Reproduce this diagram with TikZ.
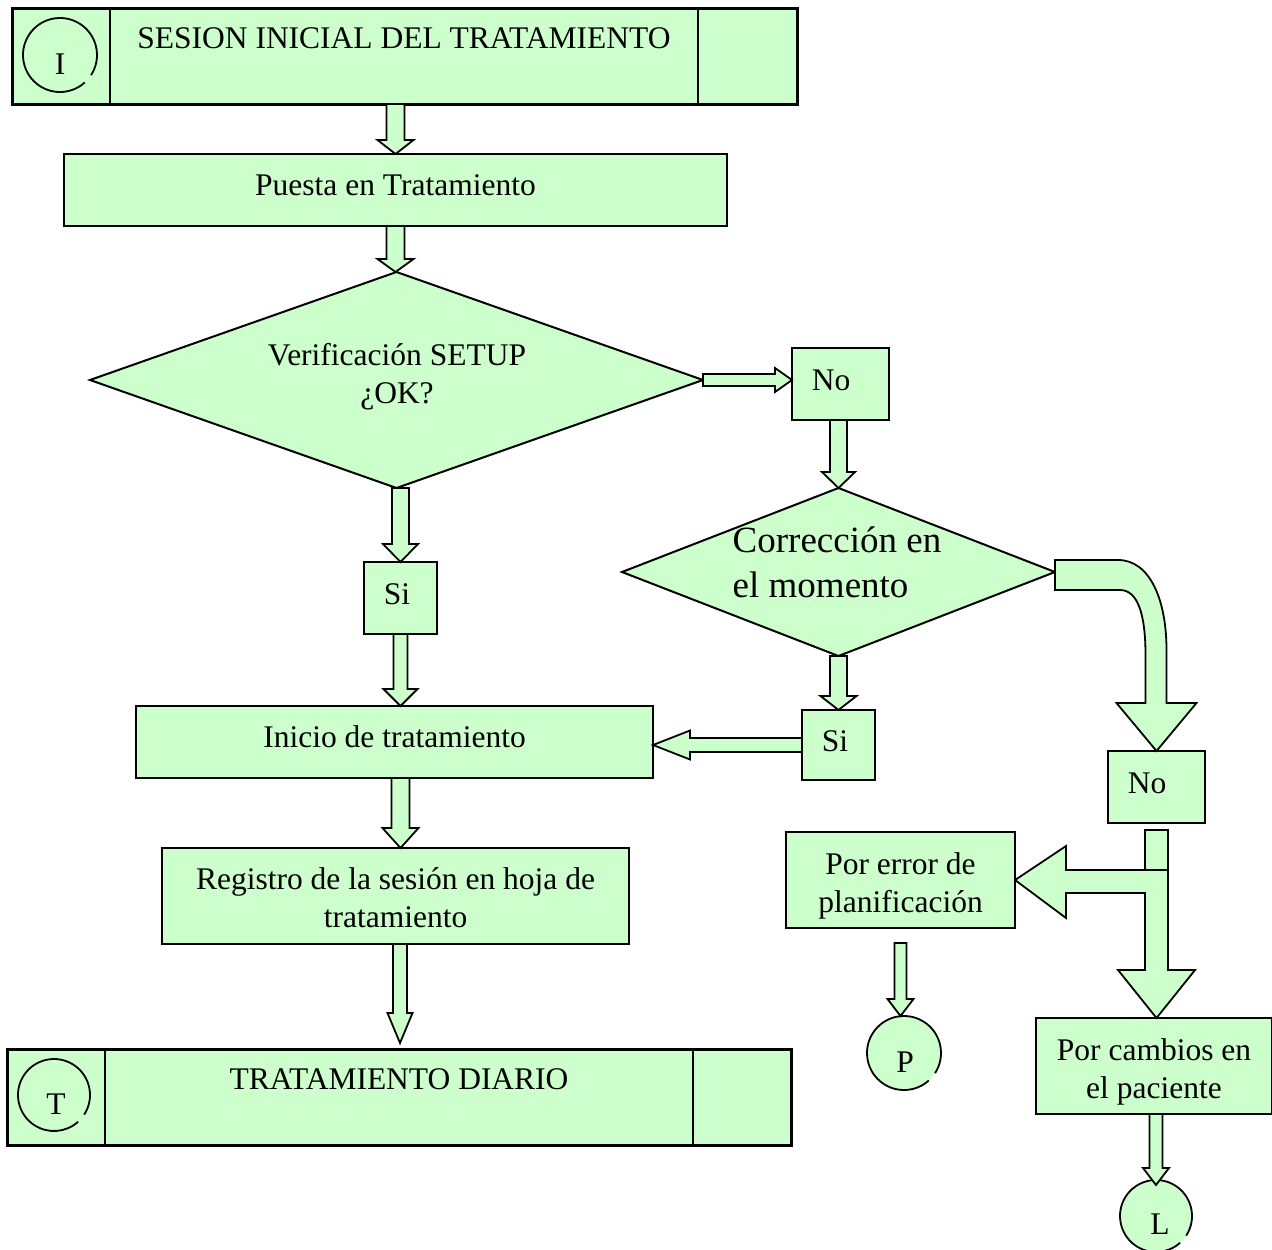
\documentclass[tikz,border=0pt]{standalone}
\usepackage{fontspec}
\setmainfont{Liberation Serif}
\usetikzlibrary{shapes.geometric,calc}
\definecolor{lgreen}{HTML}{CCFFCC}
\tikzset{
  box/.style={draw=black, fill=lgreen, line width=2pt, rectangle, inner sep=0pt, outer sep=0pt, align=center, font=\fontsize{31.5}{38}\selectfont},
  bigbox/.style={box, line width=3pt},
  dia/.style={draw=black, fill=lgreen, line width=2pt, diamond, inner sep=0pt, outer sep=0pt},
  txt/.style={inner sep=0pt, outer sep=0pt, align=center, font=\fontsize{31.5}{38}\selectfont},
  bigtxt/.style={txt, align=left, font=\fontsize{37}{45}\selectfont},
  barr/.style={draw=black, fill=lgreen, line width=1.8pt, line join=miter},
  ring/.style={draw=black, line width=1.8pt},
  rnode/.style={circle, inner sep=0pt, outer sep=0pt, fill=lgreen},
  divline/.style={draw=black, line width=2.5pt}
}
% down arrow: from, to, shaft half, head half, head length, start gap, end gap
\newcommand\Darr[7]{\path[barr] let \p1=(#1), \p2=(#2) in
  (\x1-#3pt,\y1-#6pt) -- (\x1+#3pt,\y1-#6pt) -- (\x1+#3pt,\y2+#7pt+#5pt) -- (\x1+#4pt,\y2+#7pt+#5pt)
  -- (\x1,\y2+#7pt) -- (\x1-#4pt,\y2+#7pt+#5pt) -- (\x1-#3pt,\y2+#7pt+#5pt) -- cycle;}
% right arrow
\newcommand\Rarr[5]{\path[barr] let \p1=(#1), \p2=(#2) in
  (\x1,\y1+#3pt) -- (\x2-#5pt,\y1+#3pt) -- (\x2-#5pt,\y1+#4pt) -- (\x2,\y1)
  -- (\x2-#5pt,\y1-#4pt) -- (\x2-#5pt,\y1-#3pt) -- (\x1,\y1-#3pt) -- cycle;}
% left arrow
\newcommand\Larr[5]{\path[barr] let \p1=(#1), \p2=(#2) in
  (\x1,\y1+#3pt) -- (\x2+#5pt,\y1+#3pt) -- (\x2+#5pt,\y1+#4pt) -- (\x2,\y1)
  -- (\x2+#5pt,\y1-#4pt) -- (\x2+#5pt,\y1-#3pt) -- (\x1,\y1-#3pt) -- cycle;}
\begin{document}
\begin{tikzpicture}[x=1pt,y=-1pt]
\useasboundingbox (0,0) rectangle (1272,1250);

% ---- top box
\node[bigbox, minimum width=785pt, minimum height=96pt] (top) at (404.5,56) {};
\draw[divline] ($(top.north west)+(98,0)$) -- ($(top.south west)+(98,0)$);
\draw[divline] ($(top.north east)+(-99,0)$) -- ($(top.south east)+(-99,0)$);
\node[txt] (toptxt) at (404,38) {SESION INICIAL DEL TRATAMIENTO};
\node[rnode, minimum size=74pt] (cI) at (60,55) {};
\draw[ring] (cI.center) ++(-33:37pt) arc[start angle=-33, end angle=312, radius=37pt];
\node[txt] (cItxt) at (60,64) {I};

% ---- main column
\node[box, minimum width=663pt, minimum height=72pt, text depth=10pt] (puesta) at (395.5,190) {Puesta en Tratamiento};
\node[dia, minimum width=613pt, minimum height=216pt] (d1) at (396.5,380) {};
\node[txt] (d1txt) at (397,377) {Verificación SETUP\\¿OK?};
\node[box, minimum width=73pt, minimum height=72pt, text depth=8pt] (si1) at (400.5,598) {Si\hspace*{7pt}};
\node[box, minimum width=517pt, minimum height=72pt, text depth=10pt] (inicio) at (394.5,742) {Inicio de tratamiento};
\node[box, minimum width=467pt, minimum height=96pt] (registro) at (395.5,896) {\rule{0pt}{26pt}Registro de la sesión en hoja de\\tratamiento};

% ---- bottom box
\node[bigbox, minimum width=784pt, minimum height=96pt] (trat) at (399,1097) {};
\draw[divline] ($(trat.north west)+(98,0)$) -- ($(trat.south west)+(98,0)$);
\draw[divline] ($(trat.north east)+(-98,0)$) -- ($(trat.south east)+(-98,0)$);
\node[txt] (trattxt) at (399,1079) {TRATAMIENTO DIARIO};
\node[rnode, minimum size=72pt] (cT) at (54,1095) {};
\draw[ring] (cT.center) ++(-33:36pt) arc[start angle=-33, end angle=312, radius=36pt];
\node[txt] (cTtxt) at (56,1104) {T};

% ---- right branch
\node[box, minimum width=97pt, minimum height=72pt, text depth=8pt] (no1) at (840.5,384) {No\hspace*{19pt}};
\node[dia, minimum width=433pt, minimum height=168pt] (d2) at (838.5,572) {};
\node[bigtxt] (d2txt) at (837,562) {Corrección en\\el momento};
\node[box, minimum width=73pt, minimum height=70pt, text depth=8pt] (si2) at (838.5,745) {Si\hspace*{7pt}};
\node[box, minimum width=97pt, minimum height=72pt, text depth=8pt] (no2) at (1156.5,787) {No\hspace*{19pt}};
\node[box, minimum width=229pt, minimum height=96pt] (perr) at (900.5,880) {\rule{0pt}{33pt}Por error de\\planificación};
\node[box, minimum width=236pt, minimum height=96pt] (pcamb) at (1154,1066) {\rule{0pt}{34pt}Por cambios en\\el paciente};
\node[rnode, minimum size=74pt] (cP) at (904,1053) {};
\draw[ring] (cP.center) ++(-33:37pt) arc[start angle=-33, end angle=312, radius=37pt];
\node[txt] (cPtxt) at (905,1062) {P};
\node[rnode, minimum size=72pt] (cL) at (1156,1216) {};
\draw[ring] (cL.center) ++(-33:36pt) arc[start angle=-33, end angle=312, radius=36pt];
\node[txt] (cLtxt) at (1160,1224) {L};

% ---- block arrows
\Darr{top.south -| puesta.north}{puesta.north}{9}{18}{14}{0}{0}
\Darr{puesta.south}{d1.north}{9}{18}{13}{0}{0}
\Rarr{d1.east}{no1.west}{6}{12}{17}
\Darr{no1.south -| d2.north}{d2.north}{8.5}{16.5}{16}{0}{0}
\Darr{d1.south -| si1.north}{si1.north}{8.5}{17.5}{18}{0}{0}
\Darr{si1.south}{inicio.north}{7}{17}{17}{0}{0}
\Darr{d2.south}{si2.north}{8.5}{18}{14}{0}{0}
\Larr{si2.west}{inicio.east}{7}{14.5}{37}
\Darr{inicio.south -| si1.north}{registro.north}{9}{18}{20}{0}{0}
\Darr{$(registro.south)+(4.5,0)$}{trat.north}{7}{12.5}{30}{0}{6}
\Darr{perr.south}{cP.north}{6}{13}{17}{15}{0}
\Darr{pcamb.south -| cL.north}{cL.north}{6.5}{13}{17}{0}{-5}

% curved arrow from d2 to no2
\path[barr] let \p1=(d2.east), \p2=(no2.north) in
  (\x1,\y1+12pt) -- (\x1+63pt,\y1+12pt)
  .. controls (\x1+95pt,\y1+12pt) and (\x2+10pt,\y1-28pt) .. (\x2+10pt,\y1-78pt)
  -- (\x2+10pt,\y2+48pt) -- (\x2+40pt,\y2+48pt) -- (\x2,\y2) -- (\x2-40pt,\y2+48pt)
  -- (\x2-11pt,\y2+48pt) -- (\x2-11pt,\y1-83pt)
  .. controls (\x2-11pt,\y1-43pt) and (\x1+83pt,\y1-18pt) .. (\x1+65pt,\y1-18pt)
  -- (\x1,\y1-18pt) -- cycle;

% split arrow from no2 to perr and pcamb
\path[barr] let \p1=(no2.south), \p2=(pcamb.north), \p3=(perr.east) in
  (\x1-11.5pt,\y1-7pt) -- (\x1+11.5pt,\y1-7pt) -- (\x1+11.5pt,\y2+48pt) -- (\x1+38.5pt,\y2+48pt)
  -- (\x1,\y2) -- (\x1-38.5pt,\y2+48pt) -- (\x1-11.5pt,\y2+48pt) -- (\x1-11.5pt,\y3-13pt)
  -- (\x3+51pt,\y3-13pt) -- (\x3+51pt,\y3-38pt) -- (\x3,\y3) -- (\x3+51pt,\y3+34pt)
  -- (\x3+51pt,\y3+10pt) -- (\x1-11.5pt,\y3+10pt) -- cycle;
\path[draw=black, line width=1.8pt] let \p1=(no2.south), \p3=(perr.east) in
  (\x1-11.5pt,\y3+10pt) -- (\x1+11.5pt,\y3+10pt);
\end{tikzpicture}
\end{document}
